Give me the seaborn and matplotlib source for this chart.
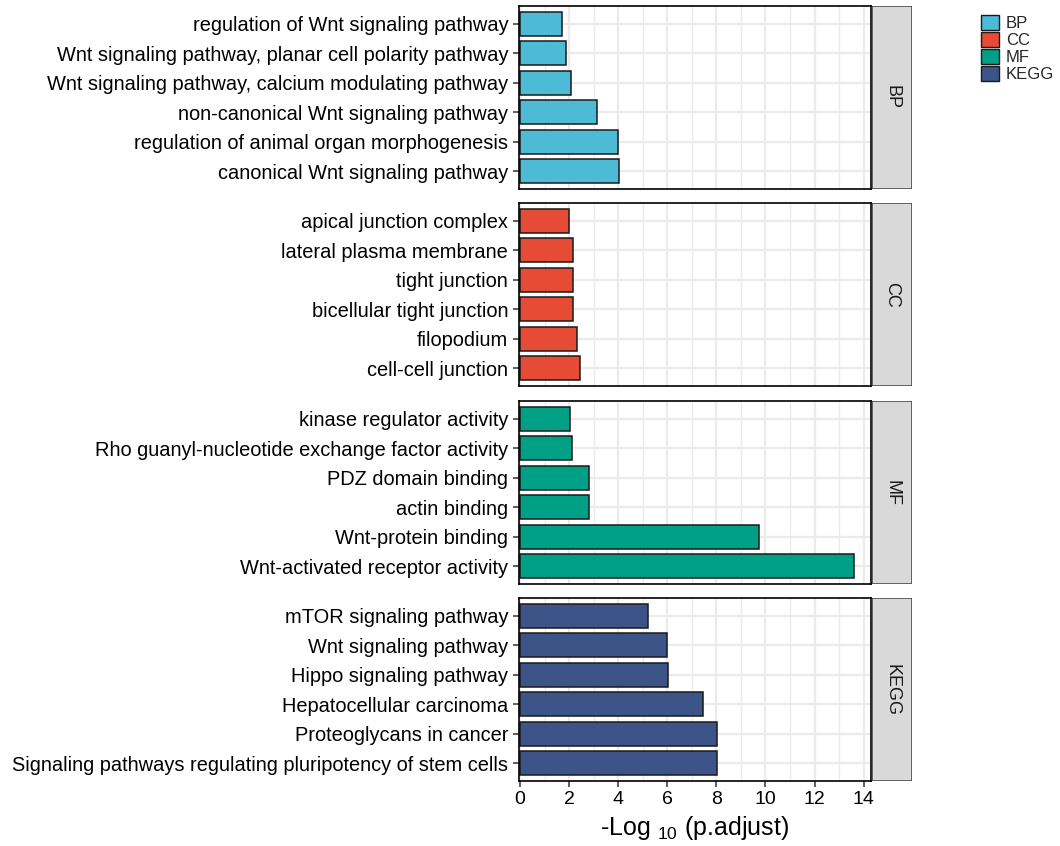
import matplotlib
matplotlib.use("Agg")
import matplotlib.pyplot as plt
import seaborn as sns
import pandas as pd
from matplotlib.patches import Patch, Rectangle

sns.set_theme(style="white")
plt.rcParams["font.family"] = ["Liberation Sans", "DejaVu Sans"]
plt.rcParams["mathtext.fontset"] = "custom"
plt.rcParams["mathtext.rm"] = "Liberation Sans"
plt.rcParams["mathtext.it"] = "Liberation Sans"
plt.rcParams["mathtext.default"] = "regular"

# Enrichment terms per category (top to bottom) and -log10(p.adjust)
bp_terms = ["regulation of Wnt signaling pathway",
            "Wnt signaling pathway, planar cell polarity pathway",
            "Wnt signaling pathway, calcium modulating pathway",
            "non-canonical Wnt signaling pathway",
            "regulation of animal organ morphogenesis",
            "canonical Wnt signaling pathway"]
bp_values = [1.73, 1.87, 2.09, 3.13, 4.01, 4.02]

cc_terms = ["apical junction complex",
            "lateral plasma membrane",
            "tight junction",
            "bicellular tight junction",
            "filopodium",
            "cell-cell junction"]
cc_values = [2.01, 2.16, 2.16, 2.16, 2.31, 2.46]

mf_terms = ["kinase regulator activity",
            "Rho guanyl-nucleotide exchange factor activity",
            "PDZ domain binding",
            "actin binding",
            "Wnt-protein binding",
            "Wnt-activated receptor activity"]
mf_values = [2.04, 2.12, 2.81, 2.81, 9.72, 13.62]

kegg_terms = ["mTOR signaling pathway",
              "Wnt signaling pathway",
              "Hippo signaling pathway",
              "Hepatocellular carcinoma",
              "Proteoglycans in cancer",
              "Signaling pathways regulating pluripotency of stem cells"]
kegg_values = [5.20, 5.99, 6.05, 7.46, 8.02, 8.02]

categories = ["BP", "CC", "MF", "KEGG"]
colors = ["#4DBBD5", "#E64B35", "#00A087", "#3C5488"]
x_ticks = [0, 2, 4, 6, 8, 10, 12, 14]

groups = [(bp_terms, bp_values), (cc_terms, cc_values),
          (mf_terms, mf_values), (kegg_terms, kegg_values)]

W, H = 1060, 846
fig = plt.figure(figsize=(W / 100, H / 100), dpi=100)

# panel geometry in pixels (top edges)
px_left, px_right = 519, 871
strip_w = 40
panel_tops = [6, 203, 401, 598]
panel_h = 183

def fx(px):
    return px / W

def fy(py):
    return 1 - py / H

for i, ((terms, vals), cat, col) in enumerate(zip(groups, categories, colors)):
    top = panel_tops[i]
    ax = fig.add_axes([fx(px_left), fy(top + panel_h),
                       fx(px_right - px_left), panel_h / H])
    df = pd.DataFrame({"term": terms, "value": vals})
    ax.set_axisbelow(True)
    for xv in range(0, 15):
        ax.axvline(xv, color="#EBEBEB", lw=1.6 if xv % 2 == 0 else 1.0, zorder=0)
    for yv in range(len(terms)):
        ax.axhline(yv, color="#EBEBEB", lw=1.6, zorder=0)
    sns.barplot(data=df, x="value", y="term", order=terms, color=col,
                saturation=1, width=0.8, edgecolor="#1a1a1a", linewidth=1.1,
                ax=ax, zorder=2)
    ax.set_xlim(-0.04, 14.3)
    ax.set_ylim(len(terms) - 0.4, -0.6)
    ax.set_xlabel("")
    ax.set_ylabel("")
    ax.set_xticks(x_ticks)
    for s in ax.spines.values():
        s.set_color("black")
        s.set_linewidth(1.2)
        s.set_visible(True)
    ax.tick_params(axis="y", left=True, length=4.3, width=1.1, color="#333333",
                   labelsize=14.4, labelcolor="black", pad=3.5)
    if i == 3:
        ax.tick_params(axis="x", bottom=True, length=4.3, width=1.1,
                       color="#333333", labelsize=14, labelcolor="black",
                       pad=3)
        ax.set_xticklabels([str(t) for t in x_ticks])
        ax.set_xlabel("-Log $_{10}$ (p.adjust)", fontsize=18, labelpad=4,
                      color="black")
    else:
        ax.tick_params(axis="x", bottom=False, labelbottom=False)

    # facet strip on the right
    sax = fig.add_axes([fx(px_right + 1), fy(top + panel_h),
                        fx(strip_w), panel_h / H])
    sax.set_xlim(0, 1)
    sax.set_ylim(0, 1)
    sax.add_patch(Rectangle((0, 0), 1, 1, facecolor="#D9D9D9",
                            edgecolor="#4D4D4D", lw=1.2))
    sax.text(0.5, 0.5, cat, rotation=-90, ha="center", va="center",
             fontsize=13, color="#1A1A1A")
    sax.axis("off")

handles = [Patch(facecolor=c, edgecolor="#1a1a1a", linewidth=1.0) for c in colors]
fig.legend(handles, categories, loc="upper left",
           bbox_to_anchor=(fx(981), fy(15)), frameon=False, fontsize=12,
           handlelength=1.08, handleheight=1.0, handletextpad=0.4,
           labelspacing=0.05, borderpad=0, borderaxespad=0)

fig.savefig("out.png", dpi=100)
